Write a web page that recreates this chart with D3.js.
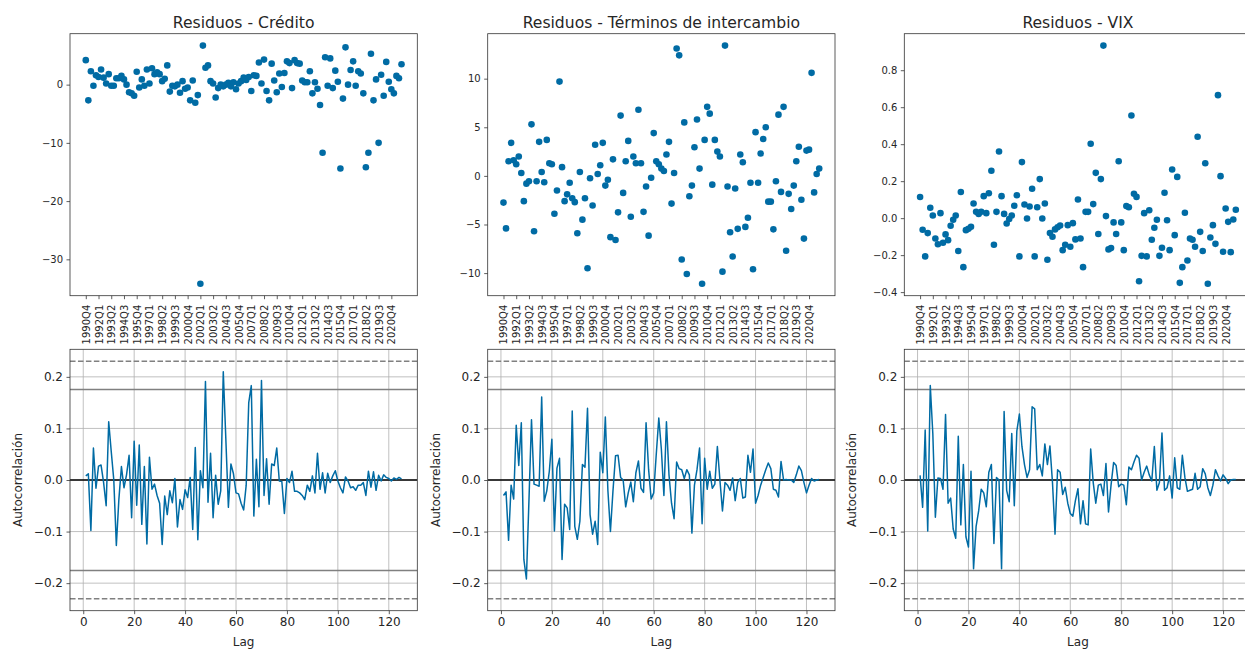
<!DOCTYPE html>
<html>
<head>
<meta charset="utf-8">
<script src="https://cdn.jsdelivr.net/npm/d3@7"></script>
<style>
  html, body { margin: 0; padding: 0; background: #fff; }
  svg { display: block; font-family: "DejaVu Sans", sans-serif; }
</style>
</head>
<body>
<svg id="chart" width="1245" height="650"></svg>
<script>
// ---------------- DATA ----------------
const quarters = [
  "1990Q4",
  "1991Q1","1991Q2","1991Q3","1991Q4","1992Q1","1992Q2","1992Q3","1992Q4",
  "1993Q1","1993Q2","1993Q3","1993Q4","1994Q1","1994Q2","1994Q3","1994Q4",
  "1995Q1","1995Q2","1995Q3","1995Q4","1996Q1","1996Q2","1996Q3","1996Q4",
  "1997Q1","1997Q2","1997Q3","1997Q4","1998Q1","1998Q2","1998Q3","1998Q4",
  "1999Q1","1999Q2","1999Q3","1999Q4","2000Q1","2000Q2","2000Q3","2000Q4",
  "2001Q1","2001Q2","2001Q3","2001Q4","2002Q1","2002Q2","2002Q3","2002Q4",
  "2003Q1","2003Q2","2003Q3","2003Q4","2004Q1","2004Q2","2004Q3","2004Q4",
  "2005Q1","2005Q2","2005Q3","2005Q4","2006Q1","2006Q2","2006Q3","2006Q4",
  "2007Q1","2007Q2","2007Q3","2007Q4","2008Q1","2008Q2","2008Q3","2008Q4",
  "2009Q1","2009Q2","2009Q3","2009Q4","2010Q1","2010Q2","2010Q3","2010Q4",
  "2011Q1","2011Q2","2011Q3","2011Q4","2012Q1","2012Q2","2012Q3","2012Q4",
  "2013Q1","2013Q2","2013Q3","2013Q4","2014Q1","2014Q2","2014Q3","2014Q4",
  "2015Q1","2015Q2","2015Q3","2015Q4","2016Q1","2016Q2","2016Q3","2016Q4",
  "2017Q1","2017Q2","2017Q3","2017Q4","2018Q1","2018Q2","2018Q3","2018Q4",
  "2019Q1","2019Q2","2019Q3","2019Q4","2020Q1","2020Q2","2020Q3","2020Q4",
  "2021Q1","2021Q2","2021Q3","2021Q4"
];

const quarterTicks = [
  "1990Q4","1992Q1","1993Q2","1994Q3","1995Q4","1997Q1","1998Q2","1999Q3",
  "2000Q4","2002Q1","2003Q2","2004Q3","2005Q4","2007Q1","2008Q2","2009Q3",
  "2010Q4","2012Q1","2013Q2","2014Q3","2015Q4","2017Q1","2018Q2","2019Q3","2020Q4"
];

const residCredito = [
  4.2, -2.7, 2.3, -0.2, 1.6, 1.3, 2.6, 1.2, 0.2, 1.8,
  -0.2, -0.2, 1.1, 1.1, 1.5, 0.9, 0.0, -1.3, -1.5, -1.9,
  2.2, -0.5, 0.9, -0.2, 2.6, 0.2, 2.8, 1.8, 2.1, 1.8,
  0.6, 1.0, 3.3, -1.2, -0.2, -0.3, 0.0, -1.4, 0.6, -0.7,
  -0.5, -2.7, 0.7, -3.1, -1.8, -34.2, 6.7, 2.9, 3.3, 0.6,
  0.2, -2.2, -0.6, 0.0, -0.3, 0.0, 0.3, -0.3, 0.4, -0.8,
  0.2, 0.6, 1.2, 0.8, 1.3, -1.1, 1.6, 1.5, 3.8, 0.2,
  4.3, -1.1, -2.7, 3.6, 0.7, -1.3, 1.9, -0.4, 2.0, 4.0,
  3.7, -0.6, 4.2, 3.7, 3.6, 0.7, 0.4, 0.4, 2.3, -1.5,
  0.4, -0.7, -3.5, -11.7, 4.7, -0.2, 4.5, -0.6, 2.4, 0.5,
  -14.4, -2.4, 6.4, 0.0, 2.5, 4.0, -0.2, 2.3, 1.9, -1.5,
  -14.2, -11.7, 5.3, -2.7, 0.9, -10.0, 1.7, -1.9, 3.9, 0.5,
  -0.8, -1.5, 1.5, 1.1, 3.5
];

const residTerminos = [
  -2.75, -5.4, 1.5, 3.4, 1.6, 1.2, 2.0, 0.3, -2.6, -0.8,
  -0.55, 5.3, -5.7, -0.55, 3.5, 0.4, -0.65, 3.7, 1.3, 1.2,
  -3.9, -1.5, 9.7, 0.9, -2.6, -1.9, -0.7, -2.3, -2.7, -5.9,
  0.4, -4.5, -2.3, -9.5, -0.25, -3.05, 3.2, 0.2, 1.1, 3.4,
  -1.0, -0.4, -6.3, 1.7, -6.6, -3.75, 6.2, -1.75, 1.5, 3.6,
  -4.2, 2.0, 1.3, 6.8, 1.3, -3.7, -1.1, -6.15, -0.2, 4.4,
  1.5, 1.2, 0.75, 0.5, 2.2, 3.5, -2.85, 0.3, 13.1, 12.4,
  -8.6, 5.5, -10.1, -2.1, -1.0, 2.95, 5.8, 0.75, -11.1, 3.7,
  7.1, 6.4, -0.9, 3.7, 2.5, 2.0, -9.85, 13.4, -1.1, -5.8,
  -8.3, -1.3, -5.45, 2.2, 1.4, -5.25, -4.3, -0.7, -9.6, 4.5,
  -0.7, 2.3, 3.8, 5.0, -2.65, -2.65, -5.5, -0.55, 6.3, -1.65,
  7.1, -7.7, -1.85, -3.4, -1.0, 1.5, 3.0, -2.45, -6.45, 2.6,
  2.7, 10.6, -1.7, 0.2, 0.75
];

const residVix = [
  0.114, -0.063, -0.207, -0.081, 0.056, 0.014, -0.110, -0.141, 0.027, -0.133,
  -0.088, -0.119, -0.041, -0.009, 0.014, -0.178, 0.141, -0.265, -0.065, -0.058,
  -0.047, 0.079, 0.034, 0.023, 0.034, 0.119, 0.027, 0.135, 0.256, -0.144,
  0.034, 0.360, 0.119, 0.023, -0.029, -0.005, 0.014, 0.067, 0.124, -0.207,
  0.303, 0.074, -0.002, 0.063, 0.159, -0.207, 0.059, 0.211, -0.002, 0.079,
  -0.225, -0.081, -0.101, -0.061, -0.049, -0.040, -0.173, -0.144, -0.038, -0.155,
  -0.027, -0.115, 0.101, -0.110, -0.265, 0.034, 0.034, 0.402, 0.076, 0.245,
  -0.086, 0.211, 0.933, 0.011, -0.169, -0.162, -0.023, -0.086, 0.308, -0.023,
  -0.173, 0.065, 0.059, 0.555, 0.132, 0.115, -0.341, -0.204, 0.027, -0.207,
  0.043, -0.117, -0.052, -0.009, -0.204, -0.160, 0.137, -0.011, -0.173, 0.263,
  -0.092, 0.223, -0.350, -0.265, 0.029, -0.229, -0.110, -0.117, -0.155, 0.440,
  -0.074, -0.178, 0.297, -0.355, -0.105, -0.038, -0.139, 0.665, 0.227, -0.182,
  0.052, -0.020, -0.184, -0.007, 0.045
];

// autocorrelation by lag (lag 1 .. 125)
const acfCredito = [
  0.008, 0.012, -0.098, 0.062, -0.016, 0.027, 0.029, -0.005, -0.050, 0.113,
  0.055, 0.000, -0.127, -0.037, 0.026, -0.015, 0.010, 0.048, -0.073, 0.075,
  -0.049, 0.068, -0.086, 0.026, -0.124, 0.044, -0.018, -0.008, -0.030, -0.045,
  -0.125, -0.031, -0.067, -0.021, -0.044, 0.003, -0.091, -0.038, -0.057, -0.019,
  -0.034, 0.005, -0.096, 0.063, -0.116, 0.018, -0.015, 0.191, -0.043, 0.052,
  -0.073, 0.009, -0.047, -0.021, 0.210, 0.080, -0.053, 0.031, 0.012, -0.025,
  -0.027, -0.045, -0.058, -0.010, 0.150, 0.183, -0.070, 0.040, -0.052, 0.193,
  -0.030, 0.041, -0.047, 0.031, 0.028, 0.062, -0.002, -0.003, -0.065, 0.003,
  -0.005, 0.017, -0.022, -0.022, -0.025, -0.030, -0.038, -0.010, -0.022, 0.008,
  -0.025, 0.052, -0.018, 0.014, -0.025, 0.013, -0.005, 0.008, 0.018, -0.002,
  -0.015, -0.025, 0.006, -0.002, -0.015, -0.013, -0.020, -0.010, -0.010, -0.005,
  -0.030, 0.017, -0.014, 0.016, -0.020, 0.009, -0.002, 0.010, 0.005, 0.003,
  -0.002, 0.004, 0.001, 0.005, 0.002
];

const acfTerminos = [
  -0.030, -0.023, -0.117, -0.010, -0.037, 0.106, 0.028, 0.111, -0.154, -0.192,
  -0.040, 0.117, -0.008, -0.010, -0.012, 0.161, -0.041, -0.021, 0.017, 0.079,
  -0.099, 0.023, 0.042, -0.154, -0.047, -0.054, -0.096, 0.134, -0.090, -0.115,
  -0.080, 0.030, 0.025, 0.139, -0.067, -0.105, -0.080, -0.125, 0.054, 0.014,
  0.122, -0.020, -0.100, -0.021, 0.047, 0.048, 0.005, 0.000, -0.052, -0.025,
  -0.004, -0.042, 0.014, 0.037, -0.016, -0.024, 0.111, 0.020, -0.037, -0.025,
  0.050, 0.120, 0.060, -0.030, 0.113, 0.010, -0.045, -0.075, 0.035, 0.022,
  0.020, 0.003, 0.020, 0.010, -0.103, -0.010, 0.020, 0.062, -0.085, 0.042,
  -0.018, 0.017, -0.016, -0.008, 0.065, 0.000, -0.060, -0.005, -0.010, -0.020,
  0.004, -0.040, -0.005, 0.003, -0.035, -0.033, 0.048, 0.015, 0.060, -0.045,
  -0.030, -0.010, 0.005, 0.020, 0.033, 0.022, -0.018, -0.020, -0.033, 0.036,
  0.000, 0.001, 0.000, 0.000, -0.005, 0.010, 0.027, 0.018, -0.005, -0.025,
  -0.010, 0.003, -0.002, 0.000, 0.001
];

const acfVix = [
  0.009, -0.053, 0.097, -0.099, 0.183, 0.090, -0.072, 0.004, 0.003, -0.018,
  0.127, -0.045, -0.035, -0.095, -0.113, 0.085, -0.087, 0.030, -0.110, -0.130,
  0.017, -0.172, -0.090, -0.060, -0.018, -0.025, -0.052, 0.015, 0.030, -0.123,
  0.005, 0.000, -0.172, 0.133, -0.020, -0.042, 0.090, -0.050, 0.095, 0.128,
  0.065, 0.030, 0.005, 0.020, 0.142, 0.138, 0.020, 0.030, 0.008, 0.070,
  0.030, 0.066, -0.005, -0.105, 0.020, 0.015, -0.028, -0.014, -0.045, -0.065,
  -0.070, -0.040, -0.017, -0.085, -0.040, -0.085, -0.087, 0.060, -0.005, -0.045,
  -0.010, -0.008, -0.030, 0.032, -0.062, -0.010, 0.034, 0.028, -0.013, -0.008,
  -0.010, -0.048, 0.025, 0.020, 0.035, 0.048, 0.042, 0.000, 0.015, 0.027,
  0.010, -0.002, 0.065, -0.020, -0.005, 0.091, -0.020, -0.015, 0.008, -0.035,
  0.043, -0.015, -0.018, 0.048, 0.005, -0.022, -0.020, -0.018, 0.013, -0.018,
  -0.013, 0.022, 0.012, -0.015, -0.030, -0.010, 0.020, 0.008, -0.002, 0.010,
  0.003, -0.007, 0.000, 0.001, 0.001
];

const titles = ["Residuos - Crédito", "Residuos - Términos de intercambio", "Residuos - VIX"];
const residTicks = [
  [-30, -20, -10, 0],
  [-10, -5, 0, 5, 10],
  [-0.4, -0.2, 0.0, 0.2, 0.4, 0.6, 0.8]
];
const residFormats = ["d", "d", ".1f"];
const acfTicks = [-0.2, -0.1, 0.0, 0.1, 0.2];
const lagTicks = [0, 20, 40, 60, 80, 100, 120];
const nObs = 125;
const z95 = 1.959963984540054;
const z99 = 2.5758293035489004;

// ---------------- LAYOUT ----------------
const svg = d3.select("#chart");
const colX = [[70, 417.3], [487.7, 835], [904.3, 1251.6]];
const topRow = [33.7, 295.7];
const botRow = [349.3, 610.7];
const BLUE = "#006BA4";
const TXT = "#262626";
const SPINE = "#333333";

function scatterPanel(ci, values) {
  const [x0, x1] = colX[ci];
  const [y0, y1] = topRow;
  const g = svg.append("g");
  const x = d3.scalePoint().domain(quarters).range([x0, x1]).padding(6.2);
  const ext = d3.extent(values);
  const m = (ext[1] - ext[0]) * 0.05;
  const y = d3.scaleLinear().domain([ext[0] - m, ext[1] + m]).range([y1, y0]);

  g.selectAll("circle").data(values).join("circle")
    .attr("cx", (d, i) => x(quarters[i]))
    .attr("cy", d => y(d))
    .attr("r", 3.3)
    .attr("fill", BLUE);

  const fmt = d3.format(residFormats[ci]);
  const ya = g.append("g").attr("transform", `translate(${x0},0)`)
    .call(d3.axisLeft(y).tickValues(residTicks[ci]).tickFormat(fmt).tickSize(3.5).tickPadding(3.5));
  const xa = g.append("g").attr("transform", `translate(0,${y1})`)
    .call(d3.axisBottom(x).tickValues(quarterTicks).tickSize(3.5).tickPadding(3.5));
  xa.selectAll("text")
    .attr("transform", "rotate(-90)")
    .attr("x", -9).attr("y", 0).attr("dy", "0.35em")
    .style("text-anchor", "end");
  [ya, xa].forEach(a => {
    a.select(".domain").remove();
    a.selectAll("line").attr("stroke", SPINE).attr("stroke-width", 0.8);
    a.selectAll("text").attr("fill", TXT).style("font-size", "10px")
      .style("font-family", "DejaVu Sans, sans-serif");
  });
  g.append("rect").attr("x", x0).attr("y", y0).attr("width", x1 - x0).attr("height", y1 - y0)
    .attr("fill", "none").attr("stroke", SPINE).attr("stroke-width", 0.8);

  g.append("text").attr("x", (x0 + x1) / 2).attr("y", 28)
    .attr("text-anchor", "middle").attr("fill", TXT)
    .style("font-size", "15.6px").text(titles[ci]);
}

function acfPanel(ci, values) {
  const [x0, x1] = colX[ci];
  const [y0, y1] = botRow;
  const g = svg.append("g");
  const lags = values.map((d, i) => i + 1);
  const lo = 1, hi = lags[lags.length - 1];
  const xm = (hi - lo) * 0.05;
  const x = d3.scaleLinear().domain([lo - xm, hi + xm]).range([x0, x1]);
  const c99 = z99 / Math.sqrt(nObs), c95 = z95 / Math.sqrt(nObs);
  const ym = 2 * c99 * 0.05;
  const y = d3.scaleLinear().domain([-c99 - ym, c99 + ym]).range([y1, y0]);

  const clipId = "clip" + ci;
  svg.append("clipPath").attr("id", clipId).append("rect")
    .attr("x", x0).attr("y", y0).attr("width", x1 - x0).attr("height", y1 - y0);
  const inner = g.append("g").attr("clip-path", `url(#${clipId})`);

  // grid
  inner.selectAll("line.vg").data(lagTicks).join("line").attr("class", "vg")
    .attr("x1", d => x(d)).attr("x2", d => x(d)).attr("y1", y0).attr("y2", y1)
    .attr("stroke", "#b0b0b0").attr("stroke-width", 0.8);
  inner.selectAll("line.hg").data(acfTicks).join("line").attr("class", "hg")
    .attr("x1", x0).attr("x2", x1).attr("y1", d => y(d)).attr("y2", d => y(d))
    .attr("stroke", "#b0b0b0").attr("stroke-width", 0.8);

  // confidence bands
  const hl = (v, color, dash) => inner.append("line")
    .attr("x1", x0).attr("x2", x1).attr("y1", y(v)).attr("y2", y(v))
    .attr("stroke", color).attr("stroke-width", 1.5)
    .attr("stroke-dasharray", dash || null);
  hl(c99, "grey", "5.55,2.4");
  hl(c95, "grey");
  hl(0, "black");
  hl(-c95, "grey");
  hl(-c99, "grey", "5.55,2.4");

  const line = d3.line().x((d, i) => x(lags[i])).y(d => y(d));
  inner.append("path").datum(values).attr("d", line)
    .attr("fill", "none").attr("stroke", BLUE).attr("stroke-width", 1.5)
    .attr("stroke-linejoin", "round");

  const ya = g.append("g").attr("transform", `translate(${x0},0)`)
    .call(d3.axisLeft(y).tickValues(acfTicks).tickFormat(d3.format(".1f")).tickSize(3.5).tickPadding(3.5));
  const xa = g.append("g").attr("transform", `translate(0,${y1})`)
    .call(d3.axisBottom(x).tickValues(lagTicks).tickFormat(d3.format("d")).tickSize(3.5).tickPadding(3.5));
  [ya, xa].forEach(a => {
    a.select(".domain").remove();
    a.selectAll("line").attr("stroke", SPINE).attr("stroke-width", 0.8);
    a.selectAll("text").attr("fill", TXT).style("font-size", "12px")
      .style("font-family", "DejaVu Sans, sans-serif");
  });
  g.append("rect").attr("x", x0).attr("y", y0).attr("width", x1 - x0).attr("height", y1 - y0)
    .attr("fill", "none").attr("stroke", SPINE).attr("stroke-width", 0.8);

  g.append("text").attr("x", (x0 + x1) / 2).attr("y", 645.5)
    .attr("text-anchor", "middle").attr("fill", TXT).style("font-size", "12px").text("Lag");
  g.append("text")
    .attr("transform", `translate(${x0 - 48},${(y0 + y1) / 2}) rotate(-90)`)
    .attr("text-anchor", "middle").attr("fill", TXT).style("font-size", "12px")
    .text("Autocorrelación");
}

scatterPanel(0, residCredito);
scatterPanel(1, residTerminos);
scatterPanel(2, residVix);
acfPanel(0, acfCredito);
acfPanel(1, acfTerminos);
acfPanel(2, acfVix);
</script>
</body>
</html>
